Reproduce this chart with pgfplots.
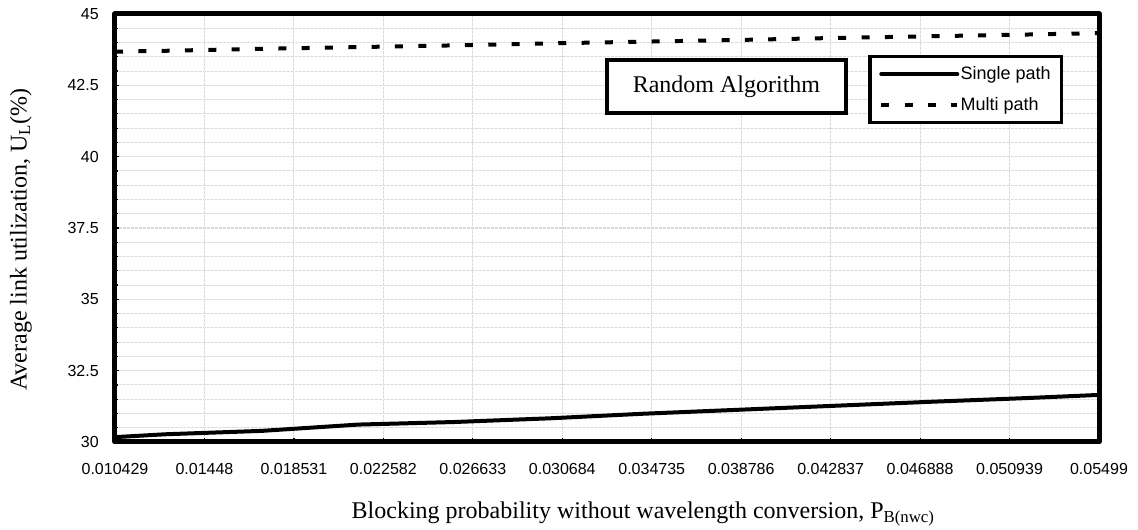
\documentclass[border=0pt]{standalone}
\usepackage{pgfplots}
\pgfplotsset{compat=1.18}
\usepackage{fontspec}
\setmainfont{Liberation Serif}
\newfontfamily\arial{Liberation Sans}

\pgfplotstableread{
x        y
0.010429 30.17
0.012693 30.27
0.017086 30.39
0.021434 30.61
0.025781 30.70
0.030129 30.83
0.034340 30.99
0.038688 31.13
0.043036 31.27
0.047383 31.41
0.051731 31.54
0.05499  31.65
}\singlepath

\pgfplotstableread{
x        y
0.010429 43.68
0.012693 43.71
0.017086 43.78
0.021434 43.84
0.025781 43.90
0.030129 43.97
0.034340 44.03
0.038688 44.09
0.043036 44.16
0.047383 44.22
0.051731 44.28
0.05499  44.33
}\multipath

\begin{document}
\begin{tikzpicture}
\begin{axis}[
  scale only axis,
  width=738pt, height=321pt,
  xmin=0.010429, xmax=0.05499,
  ymin=30, ymax=45,
  scaled x ticks=false, scaled y ticks=false,
  xtick={0.010429,0.01448,0.018531,0.022582,0.026633,0.030684,0.034735,0.038786,0.042837,0.046888,0.050939,0.05499},
  xticklabels={0.010429,0.01448,0.018531,0.022582,0.026633,0.030684,0.034735,0.038786,0.042837,0.046888,0.050939,0.05499},
  ytick={30,32.5,35,37.5,40,42.5,45},
  yticklabels={30,32.5,35,37.5,40,42.5,45},
  minor x tick num=0,
  minor y tick num=4,
  tick pos=left,
  tick align=inside,
  major tick length=3pt,
  minor tick length=2.5pt,
  every tick/.style={black, line width=0.9pt},
  /pgf/number format/assume math mode=true,
  tick label style={font=\arial\fontsize{12}{14}\selectfont},
  xticklabel style={inner ysep=0pt, yshift=-16pt},
  yticklabel style={inner xsep=0pt, xshift=-12pt},
  xmajorgrids, ymajorgrids, yminorgrids,
  major grid style={gray!30, line width=0.8pt, dash pattern=on 2pt off 1pt},
  minor grid style={gray!30, line width=0.8pt, dash pattern=on 2pt off 1pt},
  axis line style={line width=3.75pt, line join=round},
  xlabel={Blocking probability without wavelength conversion, P\textsubscript{B(nwc)}},
  ylabel={Average link utilization, U\textsubscript{L}(\%)},
  label style={font=\fontsize{18}{20}\selectfont},
  xlabel style={at={(axis description cs:0.2358,-0.1794)}, anchor=base west},
  ylabel style={at={(axis description cs:-0.0898,0.473)}, anchor=base},
  legend image code/.code={\draw[#1] (0pt,0pt) -- (57pt,0pt);},
  legend style={at={(rel axis cs:0.9634,0.9042)}, anchor=north east,
    draw=black, line width=2.5pt, fill=white,
    font=\arial\fontsize{13.5}{15}\selectfont,
    inner xsep=7pt, inner ysep=6.5pt, row sep=10pt,
    nodes={inner sep=1pt}},
  legend cell align=left,
]
\addplot[black, line width=3pt, line cap=round] table[x=x,y=y] {\singlepath};
\addlegendentry{Single path}
\addplot[black, line width=3pt, dash pattern=on 6pt off 11.5pt] table[x=x,y=y] {\multipath};
\addlegendentry{Multi path}
\node[draw=black, line width=3pt, fill=white, minimum width=179pt, minimum height=40pt,
  font=\fontsize{18}{20}\selectfont] at (rel axis cs:0.6214,0.8306) {Random Algorithm};
\end{axis}
\pgfresetboundingbox
\path ([xshift=-86.25pt,yshift=-66pt]current axis.south west) rectangle ([xshift=29.25pt,yshift=10.5pt]current axis.north east);
\end{tikzpicture}
\end{document}
